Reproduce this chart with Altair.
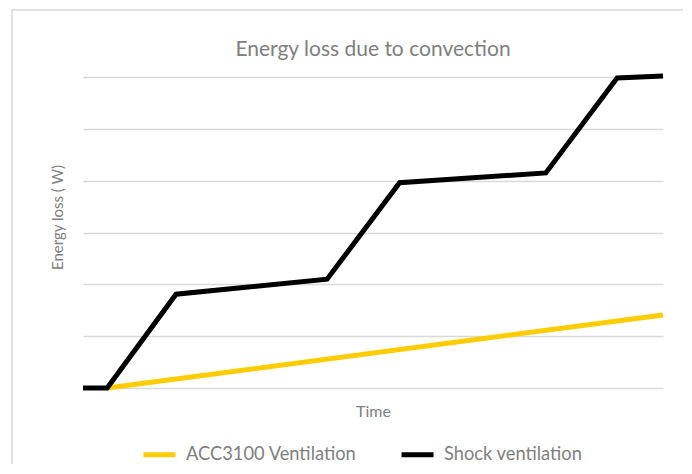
import altair as alt
import pandas as pd

series_names = ["ACC3100 Ventilation", "Shock ventilation"]
series_colors = ["#FFCC00", "#000000"]

time_acc = [1, 24]
energy_acc = [0, 14.1]

time_shock = [0, 1, 3.85, 10.1, 13.1, 19.15, 22.1, 24]
energy_shock = [0, 0, 18.1, 21.0, 39.6, 41.5, 59.8, 60.2]

y_grid = [0, 10, 20, 30, 40, 50, 60]

rows = []
for i, (t, e) in enumerate(zip(time_acc, energy_acc)):
    rows.append({"series": series_names[0], "time": t, "energy": e, "o": i})
for i, (t, e) in enumerate(zip(time_shock, energy_shock)):
    rows.append({"series": series_names[1], "time": t, "energy": e, "o": i})
df = pd.DataFrame(rows)

FONT = "Lato"
GRAY = "#808080"

lines = alt.Chart(df).mark_line(strokeWidth=5, strokeJoin="miter", strokeCap="butt").encode(
    x=alt.X("time:Q", scale=alt.Scale(domain=[0, 24], nice=False, zero=False),
            axis=alt.Axis(title="Time", labels=False, ticks=False, domain=False, grid=False,
                          titleFont=FONT, titleFontSize=16, titleFontWeight="normal",
                          titleColor=GRAY, titlePadding=15)),
    y=alt.Y("energy:Q", scale=alt.Scale(domain=[0, 60], nice=False),
            axis=alt.Axis(title="Energy loss ( W)", values=y_grid, labels=False, ticks=False,
                          domain=False, grid=True, gridColor="#d9d9d9", gridWidth=1.3,
                          titleFont=FONT, titleFontSize=15, titleFontWeight="normal",
                          titleColor=GRAY, titleAngle=270, titleX=-26, titleY=140,
                          titleAlign="center", titleBaseline="middle")),
    color=alt.Color("series:N", scale=alt.Scale(domain=series_names, range=series_colors),
                    legend=alt.Legend(title=None, orient="none", direction="horizontal",
                                      legendX=58, legendY=359, symbolType="stroke",
                                      symbolSize=1024, symbolStrokeWidth=5,
                                      labelFont=FONT, labelFontSize=18.3, labelColor=GRAY,
                                      labelLimit=400, labelOffset=8, columnPadding=34)),
    order="o:Q",
)

frame = alt.Chart(pd.DataFrame({"a": [0]})).mark_rect(
    fill="transparent", stroke="#d9d9d9", strokeWidth=1.5
).encode(
    x=alt.value(-71), x2=alt.value(601), y=alt.value(-67), y2=alt.value(420)
)

chart = alt.layer(frame, lines).properties(
    width=580, height=311,
    title=alt.TitleParams("Energy loss due to convection", font=FONT, fontSize=21,
                          fontWeight="normal", color=GRAY, anchor="middle",
                          frame="group", baseline="alphabetic", offset=-68),
    autosize=alt.AutoSizeParams(type="none"),
    padding={"left": 75, "top": 69, "right": 20, "bottom": 76},
).configure_view(stroke=None)

chart.save("out.html", embed_options={"renderer": "svg", "actions": False})
